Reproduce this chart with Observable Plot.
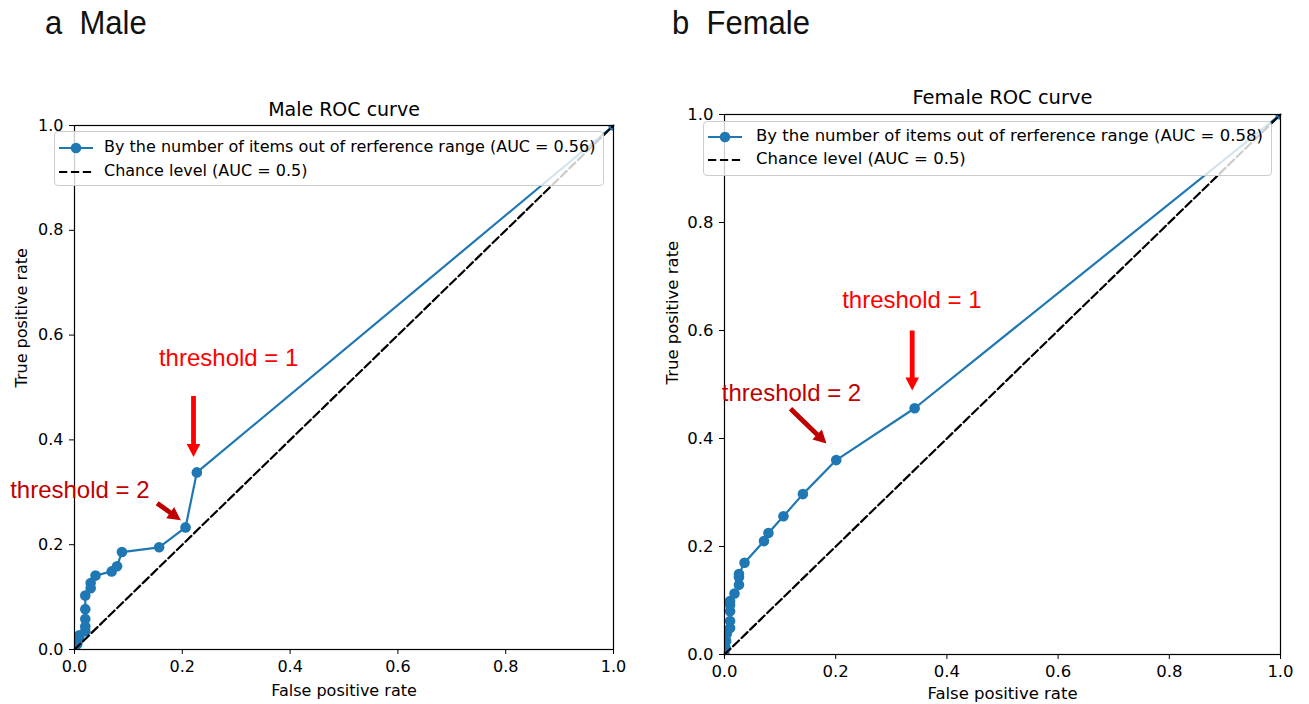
<!DOCTYPE html>
<html>
<head>
<meta charset="utf-8">
<script src="https://cdn.jsdelivr.net/npm/d3@7"></script>
<script src="https://cdn.jsdelivr.net/npm/@observablehq/plot@0.6"></script>
<style>
  body { margin: 0; background: #fff; }
  #wrap { position: relative; width: 1309px; height: 704px; overflow: hidden; background: #fff; }
  .panel { position: absolute; top: 0; }
  .plabel { position: absolute; font-family: "Liberation Sans", Arial, sans-serif; font-size: 33px; line-height: 33px; white-space: pre; transform: scaleX(0.94); transform-origin: left top; color: #111; }
  .legend { position: absolute; box-sizing: border-box; background: rgba(255,255,255,0.8); border: 1px solid #cccccc; border-radius: 4px; font-family: "DejaVu Sans", sans-serif; color: #000; }
  .legend .row { position: absolute; left: 0; white-space: pre; }
  .legend svg { position: absolute; left: 0; top: 0; overflow: visible; }
</style>
</head>
<body>
<div id="wrap"></div>
<script>
// ---- data ----
const tickValues = [0, 0.2, 0.4, 0.6, 0.8, 1.0];
const chanceFpr = [0, 1];
const chanceTpr = [0, 1];

const maleFpr = [0, 0.005, 0.009, 0.009, 0.020, 0.020, 0.020, 0.020, 0.020, 0.030, 0.030, 0.039, 0.069, 0.079, 0.088, 0.157, 0.206, 0.227, 1];
const maleTpr = [0, 0.010, 0.020, 0.027, 0.035, 0.044, 0.058, 0.077, 0.103, 0.117, 0.127, 0.141, 0.149, 0.159, 0.186, 0.195, 0.233, 0.338, 1];

const femaleFpr = [0, 0.002, 0.003, 0.004, 0.010, 0.010, 0.010, 0.010, 0.010, 0.018, 0.026, 0.026, 0.026, 0.036, 0.071, 0.079, 0.106, 0.141, 0.201, 0.342, 1];
const femaleTpr = [0, 0.012, 0.025, 0.038, 0.049, 0.062, 0.080, 0.092, 0.099, 0.113, 0.129, 0.143, 0.149, 0.170, 0.210, 0.225, 0.256, 0.297, 0.360, 0.456, 1];

const maleLegend = ["By the number of items out of rerference range (AUC = 0.56)", "Chance level (AUC = 0.5)"];
const femaleLegend = ["By the number of items out of rerference range (AUC = 0.58)", "Chance level (AUC = 0.5)"];

const maleNotes = [
  {x: 0.286, y: 0.555, label: "threshold = 1", color: "#ff0000"},
  {x: 0.010, y: 0.303, label: "threshold = 2", color: "#c00000"}
];
const maleArrows = [
  {x: 0.2208, y: 0.484, len: 61, angle: 180, color: "#ff0000"},
  {x: 0.1534, y: 0.279, len: 29, angle: 125.5, color: "#c00000"}
];
const femaleNotes = [
  {x: 0.337, y: 0.655, label: "threshold = 1", color: "#ff0000"},
  {x: 0.1205, y: 0.483, label: "threshold = 2", color: "#c00000"}
];
const femaleArrows = [
  {x: 0.3376, y: 0.600, len: 60, angle: 180, color: "#ff0000"},
  {x: 0.1187, y: 0.455, len: 50, angle: 134, color: "#c00000"}
];

// ---- drawing ----
const BLUE = "#1f77b4";
const arrowShape = {
  draw(ctx, l, r) {
    const w = 2.4, hw = 6.8, hl = 13;
    ctx.moveTo(-w, 0);
    ctx.lineTo(-w, -(l - hl));
    ctx.lineTo(-hw, -(l - hl));
    ctx.lineTo(0, -l);
    ctx.lineTo(hw, -(l - hl));
    ctx.lineTo(w, -(l - hl));
    ctx.lineTo(w, 0);
    ctx.closePath();
  }
};

function panel(o) {
  const curve = o.fpr.map((x, i) => ({x, y: o.tpr[i]}));
  const chance = chanceFpr.map((x, i) => ({x, y: chanceTpr[i]}));
  const fs = o.fs;
  return Plot.plot({
    width: o.width, height: 704,
    marginLeft: o.ml, marginRight: o.mr, marginTop: o.mt, marginBottom: o.mb,
    style: {fontFamily: "DejaVu Sans", fontSize: fs + "px", color: "#000", background: "transparent", overflow: "visible"},
    x: {domain: [0, 1]},
    y: {domain: [0, 1]},
    marks: [
      Plot.line(curve, {x: "x", y: "y", stroke: BLUE, strokeWidth: 2.2}),
      Plot.dot(curve, {x: "x", y: "y", r: 5.3, fill: BLUE, stroke: "none", clip: "frame"}),
      Plot.line(chance, {x: "x", y: "y", stroke: "#000", strokeWidth: 2.2, strokeDasharray: "8.3,3.6", clip: "frame"}),
      Plot.frame({stroke: "#000", strokeWidth: 1.2}),
      Plot.axisX({ticks: tickValues, tickSize: 5, tickPadding: 6, tickFormat: d => d.toFixed(1), label: null, fontSize: fs}),
      Plot.axisY({ticks: tickValues, tickSize: 5, tickPadding: 6, tickFormat: d => d.toFixed(1), label: null, fontSize: fs}),
      Plot.text([o.title], {frameAnchor: "top", text: d => d, dy: o.titleDy, fontSize: o.tfs, lineAnchor: "middle"}),
      Plot.text(["False positive rate"], {frameAnchor: "bottom", text: d => d, dy: o.xlDy, fontSize: fs, lineAnchor: "middle"}),
      Plot.text(["True positive rate"], {frameAnchor: "left", text: d => d, dx: o.ylDx, rotate: -90, fontSize: fs}),
      Plot.text(o.notes, {x: "x", y: "y", text: "label", fill: "color", fontFamily: "Liberation Sans", fontSize: o.nfs, lineAnchor: "middle"}),
      ...o.arrows.map(a => Plot.vector([a], {x: "x", y: "y", length: a.len, rotate: a.angle, anchor: "start", shape: arrowShape, fill: a.color, stroke: "none"}))
    ]
  });
}

function legend(o) {
  const div = document.createElement("div");
  div.className = "legend";
  Object.assign(div.style, {left: o.left + "px", top: o.top + "px", width: o.w + "px", height: o.h + "px", fontSize: o.fs + "px"});
  const ns = "http://www.w3.org/2000/svg";
  const svg = document.createElementNS(ns, "svg");
  svg.setAttribute("width", o.w); svg.setAttribute("height", o.h);
  const l1 = document.createElementNS(ns, "line");
  Object.entries({x1: o.sx, x2: o.sx + o.sl, y1: o.r1, y2: o.r1, stroke: BLUE, "stroke-width": 2.2}).forEach(([k, v]) => l1.setAttribute(k, v));
  const c1 = document.createElementNS(ns, "circle");
  Object.entries({cx: o.sx + o.sl / 2, cy: o.r1, r: 5.3, fill: BLUE}).forEach(([k, v]) => c1.setAttribute(k, v));
  const l2 = document.createElementNS(ns, "line");
  Object.entries({x1: o.sx, x2: o.sx + o.sl, y1: o.r2, y2: o.r2, stroke: "#000", "stroke-width": 2.2, "stroke-dasharray": "8.3,3.6"}).forEach(([k, v]) => l2.setAttribute(k, v));
  svg.append(l1, c1, l2);
  div.append(svg);
  o.labels.forEach((t, i) => {
    const r = document.createElement("div");
    r.className = "row";
    r.textContent = t;
    r.style.left = o.tx + "px";
    r.style.top = ((i === 0 ? o.r1 : o.r2) - o.fs * 0.6 - 1) + "px";
    r.style.lineHeight = (o.fs * 1.2) + "px";
    div.append(r);
  });
  return div;
}

const wrap = document.getElementById("wrap");

const male = panel({
  fpr: maleFpr, tpr: maleTpr, width: 654, ml: 74, mr: 41, mt: 125, mb: 55,
  fs: 16, tfs: 19, title: "Male ROC curve", titleDy: -16, xlDy: 41, ylDx: -53, nfs: 24,
  notes: maleNotes, arrows: maleArrows
});
male.classList.add("panel"); male.style.left = "0px";
wrap.append(male);

const female = panel({
  fpr: femaleFpr, tpr: femaleTpr, width: 655, ml: 70, mr: 29, mt: 114, mb: 50,
  fs: 16.5, tfs: 19.5, title: "Female ROC curve", titleDy: -17, xlDy: 39, ylDx: -52, nfs: 24,
  notes: femaleNotes, arrows: femaleArrows
});
female.classList.add("panel"); female.style.left = "654px";
wrap.append(female);

wrap.append(legend({left: 54, top: 131, w: 550, h: 55, fs: 16, sx: 4, sl: 34, tx: 49, r1: 16, r2: 40, labels: maleLegend}));
wrap.append(legend({left: 703, top: 121, w: 569, h: 55, fs: 16.5, sx: 4, sl: 34, tx: 52, r1: 15, r2: 38, labels: femaleLegend}));

const la = document.createElement("div");
la.className = "plabel"; la.style.left = "45px"; la.style.top = "6px"; la.textContent = "a  Male";
const lb = document.createElement("div");
lb.className = "plabel"; lb.style.left = "672px"; lb.style.top = "6px"; lb.textContent = "b  Female";
wrap.append(la, lb);
</script>
</body>
</html>
